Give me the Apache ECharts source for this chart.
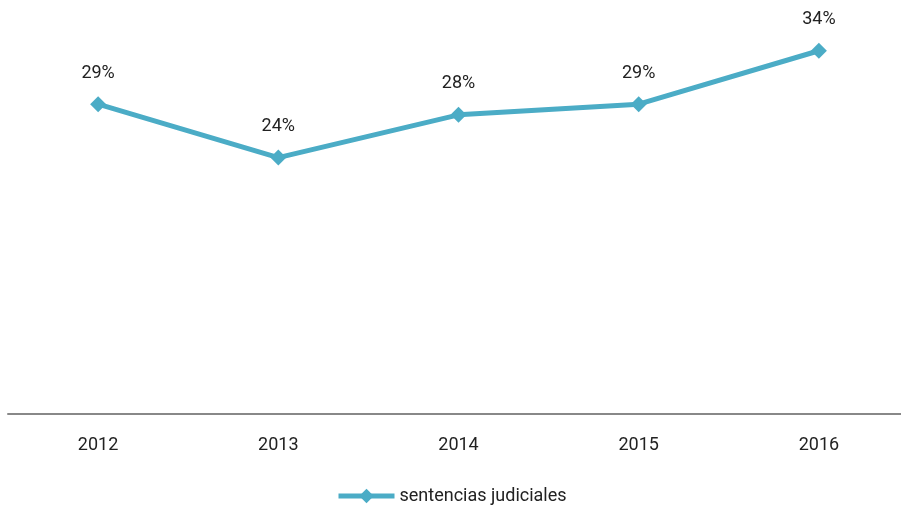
<!DOCTYPE html>
<html><head><meta charset="utf-8">
<script src="https://cdn.jsdelivr.net/npm/echarts@6/dist/echarts.min.js"></script>
<style>html,body{margin:0;padding:0;background:#fff}#c{width:901px;height:509px}</style>
</head><body><div id="c"></div>
<script>
const categories = ['2012','2013','2014','2015','2016'];
const seriesName = 'sentencias judiciales';
const values = [29, 24, 28, 29, 34];
const chart = echarts.init(document.getElementById('c'));
chart.setOption({
  animation: false,
  textStyle: {fontFamily: 'Roboto'},
  grid: {left: 8, right: -8, top: 8, bottom: 95, outerBoundsMode: 'none', containLabel: false},
  xAxis: {
    type: 'category', data: categories, boundaryGap: true,
    axisLine: {lineStyle: {color: '#888', width: 2}},
    axisTick: {show: false},
    axisLabel: {color: '#222', fontSize: 18, margin: 22, fontFamily: 'Roboto'}
  },
  yAxis: {type: 'value', min: 0, max: 38, show: false, splitLine: {show: false}},
  legend: {
    left: 336, top: 487, padding: 0, itemWidth: 56, itemHeight: 18,
    data: [seriesName],
    lineStyle: {width: 5},
    textStyle: {color: '#222', fontSize: 18, fontFamily: 'Roboto'}
  },
  series: [{
    name: seriesName, type: 'line', data: values,
    lineStyle: {color: '#4BACC6', width: 5},
    itemStyle: {color: '#4BACC6'},
    symbol: 'diamond', symbolSize: 16,
    label: {show: true, position: 'top', distance: 14, color: '#222', fontSize: 18,
      formatter: p => p.value + '%'}
  }]
});
</script></body></html>
